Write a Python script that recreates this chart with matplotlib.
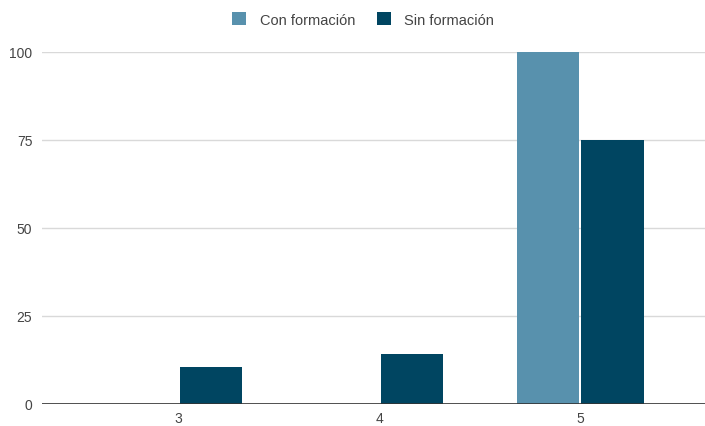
import matplotlib.pyplot as plt
import numpy as np

plt.rcParams["font.family"] = ["Liberation Sans", "DejaVu Sans"]

categories = ["3", "4", "5"]
con_formacion = [0, 0, 100]
sin_formacion = [10.5, 14.3, 75]
y_ticks = [0, 25, 50, 75, 100]

COLOR_CON = "#5891ad"
COLOR_SIN = "#004561"
TEXT = "#444444"

fig = plt.figure(figsize=(7.05, 4.27), dpi=100)
ax = fig.add_axes([42 / 705, 22 / 427, 663 / 705, 352 / 427])

x = np.arange(len(categories))
w = 0.31
ax.bar(x - w / 2 - 0.005, con_formacion, w, color=COLOR_CON, label="Con formación", zorder=3)
ax.bar(x + w / 2 + 0.005, sin_formacion, w, color=COLOR_SIN, label="Sin formación", zorder=3)

ax.set_xlim(-0.68, 2.62)
ax.set_ylim(0, 100)
ax.set_xticks(x)
ax.set_xticklabels(categories)
ax.set_yticks(y_ticks)
ax.tick_params(axis="both", length=0, labelsize=10, colors=TEXT)
ax.tick_params(axis="y", pad=7)
ax.tick_params(axis="x", pad=5)

for spine in ax.spines.values():
    spine.set_visible(False)
ax.grid(axis="y", color="#d9d9d9", linewidth=1, zorder=0)
ax.axhline(0, color="#333333", linewidth=1.2, zorder=4)

leg = fig.legend(loc="upper center", bbox_to_anchor=(0.515, 1.0), ncol=2, frameon=False,
                 fontsize=10.5, handlelength=1.0, handleheight=1.0, columnspacing=1.5,
                 handletextpad=0.9)
for t in leg.get_texts():
    t.set_color(TEXT)

fig.savefig("out.png", dpi=100)
